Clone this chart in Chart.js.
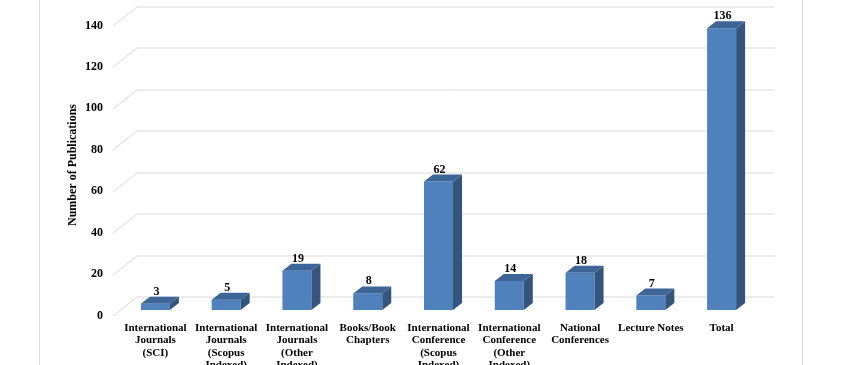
<!DOCTYPE html>
<html>
<head>
<meta charset="utf-8">
<script src="https://cdn.jsdelivr.net/npm/chart.js@4/dist/chart.umd.min.js"></script>
<style>
  html, body { margin: 0; padding: 0; background: #fff; }
  #wrap { width: 854px; height: 365px; position: relative; }
</style>
</head>
<body>
<div id="wrap"><canvas id="pubChart"></canvas></div>
<script>
// Chart data
const categories = [
    ["International", "Journals", "(SCI)"],
    ["International", "Journals", "(Scopus", "Indexed)"],
    ["International", "Journals", "(Other", "Indexed)"],
    ["Books/Book", "Chapters"],
    ["International", "Conference", "(Scopus", "Indexed)"],
    ["International", "Conference", "(Other", "Indexed)"],
    ["National", "Conferences"],
    ["Lecture Notes"],
    ["Total"]
];
const publications = [3, 5, 19, 8, 62, 14, 18, 7, 136];
const yTicks = [0, 20, 40, 60, 80, 100, 120, 140];

const FONT = "'Liberation Serif', 'Times New Roman', serif";
const DEPTH_X = 9, DEPTH_Y = 7;       // bar depth
const WALL_X = 24, WALL_Y = 19;       // wall depth (front grid -> back wall)
const FRONT_SHIFT_X = 7, FRONT_SHIFT_Y = 5.5;

// Draws the 3D wall gridlines behind the bars
const wallGrid = {
    id: "wallGrid",
    beforeDatasetsDraw(chart) {
        const { ctx, chartArea, scales: { y } } = chart;
        ctx.save();
        ctx.strokeStyle = "#d9d9d9";
        ctx.lineWidth = 1;
        yTicks.forEach(v => {
            const py = Math.round(y.getPixelForValue(v)) + 0.5;
            const fx = chartArea.left - FRONT_SHIFT_X;
            const fy = py + FRONT_SHIFT_Y;
            const bx = fx + WALL_X;
            const by = fy - WALL_Y;
            ctx.beginPath();
            ctx.moveTo(fx, fy);
            ctx.lineTo(bx, by);
            ctx.lineTo(chartArea.right + (WALL_X - FRONT_SHIFT_X), by);
            ctx.stroke();
        });
        ctx.restore();
    }
};

// Adds top/side faces to each bar plus the value labels
const bars3d = {
    id: "bars3d",
    afterDatasetsDraw(chart) {
        const { ctx } = chart;
        const meta = chart.getDatasetMeta(0);
        ctx.save();
        meta.data.forEach((bar, i) => {
            const { x, y, base, width } = bar.getProps(["x", "y", "base", "width"], true);
            const l = x - width / 2, r = x + width / 2;
            // side face
            ctx.fillStyle = "#34557d";
            ctx.beginPath();
            ctx.moveTo(r, y);
            ctx.lineTo(r + DEPTH_X, y - DEPTH_Y);
            ctx.lineTo(r + DEPTH_X, base - DEPTH_Y);
            ctx.lineTo(r, base);
            ctx.closePath();
            ctx.fill();
            // top face
            ctx.fillStyle = "#3d6597";
            ctx.beginPath();
            ctx.moveTo(l, y);
            ctx.lineTo(l + DEPTH_X, y - DEPTH_Y);
            ctx.lineTo(r + DEPTH_X, y - DEPTH_Y);
            ctx.lineTo(r, y);
            ctx.closePath();
            ctx.fill();
            // value label
            ctx.fillStyle = "#000";
            ctx.font = "bold 12px " + FONT;
            ctx.textAlign = "center";
            ctx.textBaseline = "alphabetic";
            ctx.fillText(String(publications[i]), x + 1, y - DEPTH_Y - 2);
        });
        ctx.restore();
    }
};

// Outer chart frame
const frame = {
    id: "frame",
    beforeDraw(chart) {
        const { ctx } = chart;
        ctx.save();
        ctx.strokeStyle = "#d9d9d9";
        ctx.lineWidth = 1;
        ctx.strokeRect(39.5, -5, 763, 380);
        ctx.restore();
    }
};

new Chart(document.getElementById("pubChart"), {
    type: "bar",
    data: {
        labels: categories,
        datasets: [{
            data: publications,
            backgroundColor: "#4f81bd",
            borderWidth: 0,
            barPercentage: 0.41,
            categoryPercentage: 1
        }]
    },
    options: {
        responsive: true,
        maintainAspectRatio: false,
        animation: false,
        layout: { padding: { left: 66, right: 97, top: 20, bottom: 0 } },
        plugins: {
            legend: { display: false },
            tooltip: { enabled: false }
        },
        scales: {
            x: {
                grid: { display: false, drawTicks: false },
                border: { display: false },
                ticks: {
                    color: "#000",
                    padding: 12,
                    maxRotation: 0,
                    autoSkip: false,
                    font: { family: FONT, size: 11, weight: "bold", lineHeight: 1.12 }
                },
                afterFit(scale) {
                    scale.height = 55;
                    scale.paddingLeft = 0;
                    scale.paddingRight = 0;
                }
            },
            y: {
                min: 0,
                max: 140,
                grid: { display: false, drawTicks: false },
                border: { display: false },
                ticks: {
                    stepSize: 20,
                    color: "#000",
                    padding: 17,
                    labelOffset: 5.5,
                    font: { family: FONT, size: 12, weight: "bold" }
                },
                title: {
                    display: true,
                    text: "Number of Publications",
                    color: "#000",
                    padding: 0,
                    font: { family: FONT, size: 12, weight: "bold" }
                },
                afterFit(scale) {
                    scale.width = 54;
                    scale.paddingTop = 0;
                    scale.paddingBottom = 0;
                }
            }
        }
    },
    plugins: [frame, wallGrid, bars3d]
});
</script>
</body>
</html>
